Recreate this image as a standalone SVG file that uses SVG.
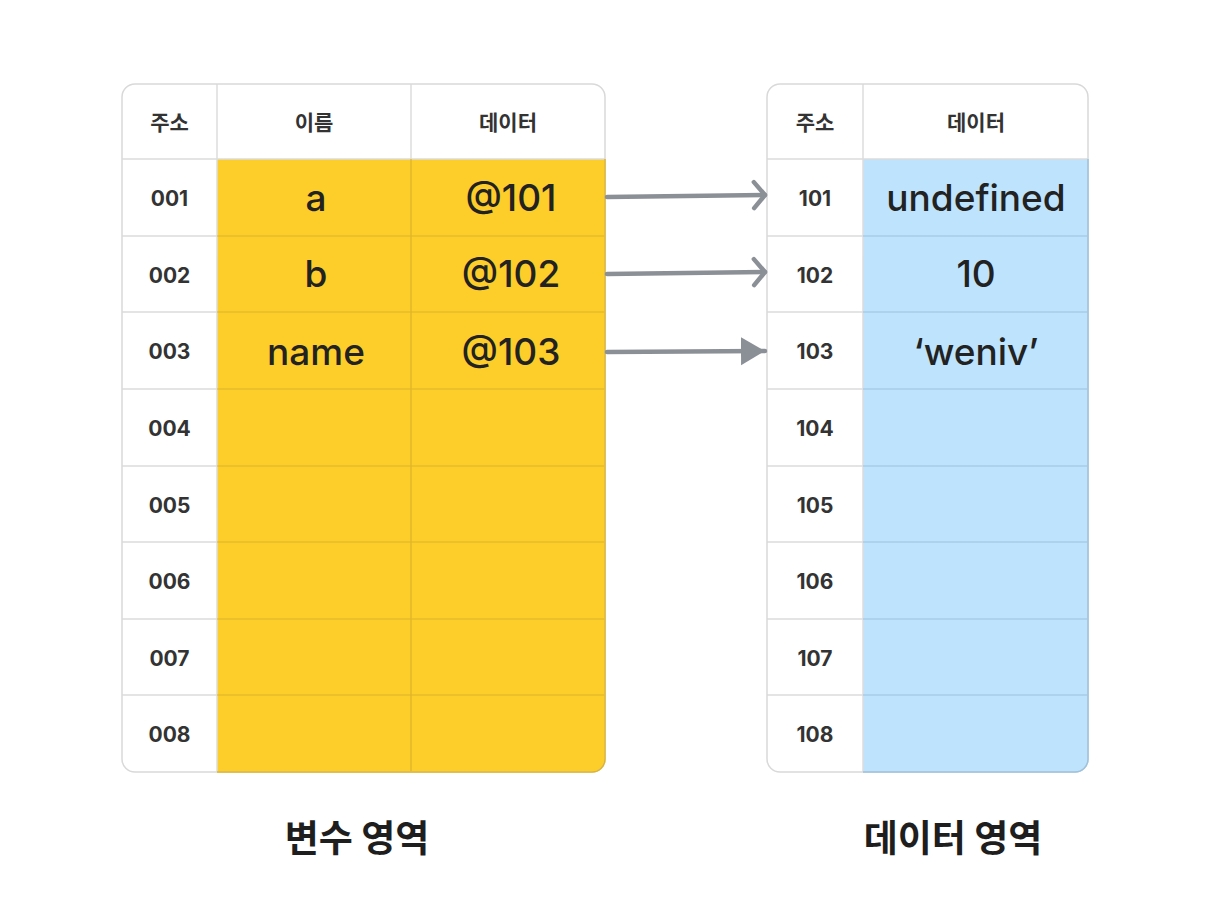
<svg xmlns="http://www.w3.org/2000/svg" width="1210" height="908" viewBox="0 0 1210 908">
<defs>
<style>
.hdr{font-family:"Noto Sans CJK KR",sans-serif;font-size:21px;font-weight:700;fill:#333;text-anchor:middle;dominant-baseline:central}
.addr{font-family:Inter,"Noto Sans CJK KR",sans-serif;font-size:21px;font-weight:700;fill:#333;text-anchor:middle;dominant-baseline:central}
.val{font-family:Inter,"Noto Sans CJK KR",sans-serif;font-size:37px;font-weight:500;fill:#222;text-anchor:middle;dominant-baseline:central}
.title{font-family:"Noto Sans CJK KR",sans-serif;font-size:37px;font-weight:700;fill:#1e1e1e;text-anchor:middle;dominant-baseline:central}
.gl{stroke:#dcdcdc;stroke-width:1.5;fill:none}
.yl{stroke:#dcb32a;stroke-width:1.2;fill:none}
.bl{stroke:#9cc2de;stroke-width:1.2;fill:none}
.conn{stroke:#8b9097;stroke-width:4.5;fill:none;stroke-linecap:round}
</style>
<clipPath id="clipL"><rect x="122" y="84" width="483" height="688" rx="13"/></clipPath>
<clipPath id="clipR"><rect x="767" y="84" width="321" height="688" rx="13"/></clipPath>
<marker id="open" viewBox="0 0 20 20" refX="17" refY="10" markerWidth="20" markerHeight="20" markerUnits="userSpaceOnUse" orient="auto" overflow="visible">
<path d="M6,-3 L17,10 L6,23" fill="none" stroke="#8b9097" stroke-width="4.5" stroke-linecap="round" stroke-linejoin="round"/>
</marker>
<marker id="fill" viewBox="0 0 24 30" refX="24" refY="15" markerWidth="24" markerHeight="30" markerUnits="userSpaceOnUse" orient="auto">
<path d="M0,1 L24,15 L0,29 Z" fill="#8b9097"/>
</marker>
</defs>
<rect width="1210" height="908" fill="#fff"/>

<g id="table-variables">
<g clip-path="url(#clipL)">
<rect x="122" y="84" width="483" height="688" fill="#fff"/>
<rect x="217" y="159" width="388" height="613" fill="#fdcd2a"/>
<path class="gl" d="M122,159H217M122,236H217M122,312H217M122,389H217M122,466H217M122,542H217M122,619H217M122,695H217M217,84V772M411,84V159M217,159H605"/>
<path class="yl" d="M217,236H605M217,312H605M217,389H605M217,466H605M217,542H605M217,619H605M217,695H605M411,159V772"/>
</g>
<rect x="122" y="84" width="483" height="688" rx="13" fill="none" stroke="#d9d9d9" stroke-width="1.5"/>
<path d="M217,772H592a13,13 0 0 0 13,-13V159" fill="none" stroke="#e0b42a" stroke-width="1.5"/>
<text class="hdr" x="169.5" y="121">주소</text>
<text class="hdr" x="314" y="121">이름</text>
<text class="hdr" x="508" y="121">데이터</text>
<text class="addr" x="169.5" y="198">001</text>
<text class="addr" x="169.5" y="275">002</text>
<text class="addr" x="169.5" y="351">003</text>
<text class="addr" x="169.5" y="428">004</text>
<text class="addr" x="169.5" y="505">005</text>
<text class="addr" x="169.5" y="581">006</text>
<text class="addr" x="169.5" y="658">007</text>
<text class="addr" x="169.5" y="734">008</text>
<text class="val" x="316" y="197">a</text>
<text class="val" x="316" y="273">b</text>
<text class="val" x="316" y="351">name</text>
<text class="val" x="511" y="197">@101</text>
<text class="val" x="511" y="273">@102</text>
<text class="val" x="511" y="351">@103</text>
</g>

<g id="table-data">
<g clip-path="url(#clipR)">
<rect x="767" y="84" width="321" height="688" fill="#fff"/>
<rect x="863" y="159" width="225" height="613" fill="#bee3fd"/>
<path class="gl" d="M767,159H863M767,236H863M767,312H863M767,389H863M767,466H863M767,542H863M767,619H863M767,695H863M863,84V772M863,159H1088"/>
<path class="bl" d="M863,236H1088M863,312H1088M863,389H1088M863,466H1088M863,542H1088M863,619H1088M863,695H1088"/>
</g>
<rect x="767" y="84" width="321" height="688" rx="13" fill="none" stroke="#d9d9d9" stroke-width="1.5"/>
<path d="M863,772H1075a13,13 0 0 0 13,-13V159" fill="none" stroke="#9cc2de" stroke-width="1.5"/>
<text class="hdr" x="815" y="121">주소</text>
<text class="hdr" x="976" y="121">데이터</text>
<text class="addr" x="815" y="198">101</text>
<text class="addr" x="815" y="275">102</text>
<text class="addr" x="815" y="351">103</text>
<text class="addr" x="815" y="428">104</text>
<text class="addr" x="815" y="505">105</text>
<text class="addr" x="815" y="581">106</text>
<text class="addr" x="815" y="658">107</text>
<text class="addr" x="815" y="734">108</text>
<text class="val" x="976" y="197">undefined</text>
<text class="val" x="976" y="273">10</text>
<text class="val" x="976" y="351">‘weniv’</text>
</g>

<g id="connectors">
<path class="conn" d="M607,197L765,195" marker-end="url(#open)"/>
<path class="conn" d="M607,274L765,272" marker-end="url(#open)"/>
<path class="conn" d="M607,352L765,351" marker-end="url(#fill)" stroke-linecap="butt"/>
</g>

<g id="labels">
<text class="title" x="357" y="836">변수 영역</text>
<text class="title" x="953" y="836">데이터 영역</text>
</g>
</svg>
